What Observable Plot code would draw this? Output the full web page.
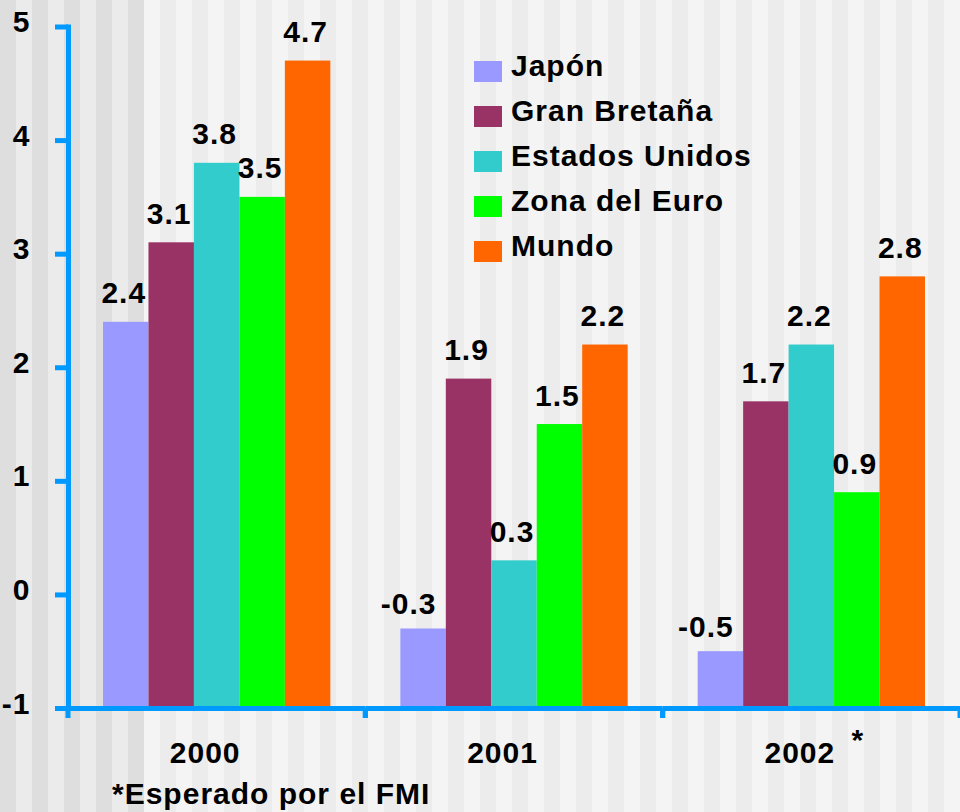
<!DOCTYPE html>
<html>
<head>
<meta charset="utf-8">
<script src="https://cdn.jsdelivr.net/npm/d3@7"></script>
<script src="https://cdn.jsdelivr.net/npm/@observablehq/plot@0.6"></script>
<style>
html, body { margin: 0; padding: 0; }
body {
  width: 960px; height: 812px; overflow: hidden;
  background:
    repeating-linear-gradient(90deg, #dedede 0 16px, #ebebeb 16px 32px) 0 0 / 144px 100% no-repeat,
    repeating-linear-gradient(90deg, #ececec 0 16px, #f4f4f4 16px 32px);
  font-family: "Liberation Sans", Arial, sans-serif;
}
#wrap { position: relative; width: 960px; height: 812px; }
#chart { position: absolute; left: 0; top: 0; }
#chart svg { font: bold 30px "Liberation Sans", Arial, sans-serif; letter-spacing: 1px; background: transparent; }
#legend { position: absolute; left: 474px; top: 43px; }
#legend > div { margin: 0 !important; padding: 0 !important; font: bold 30px "Liberation Sans", Arial, sans-serif !important; letter-spacing: 1px; color: #000; }
#legend > div > div { display: flex !important; align-items: center !important; height: 45px; padding: 0 !important; margin: 0 !important; }
#legend > div > div > div { font: inherit !important; overflow: visible !important; }
#legend svg { margin: 0 9px 0 0 !important; position: relative; top: 6px; flex-shrink: 0; }
#note { position: absolute; left: 112px; top: 779px; font: bold 30px "Liberation Sans", Arial, sans-serif; line-height: 30px; letter-spacing: 1px; color: #000; white-space: nowrap; }
</style>
</head>
<body>
<div id="wrap">
  <div id="chart"></div>
  <div id="legend"></div>
  <div id="note"></div>
</div>
<script>
// ---- Data ----
const years = ["2000", "2001", "2002"];
const series = ["Japón", "Gran Bretaña", "Estados Unidos", "Zona del Euro", "Mundo"];
const colors = ["#9999ff", "#993366", "#33cccc", "#00ff00", "#ff6600"];
const japon = [2.4, -0.3, -0.5];
const granBretana = [3.1, 1.9, 1.7];
const estadosUnidos = [3.8, 0.3, 2.2];
const zonaEuro = [3.5, 1.5, 0.9];
const mundo = [4.7, 2.2, 2.8];
const yTicks = [-1, 0, 1, 2, 3, 4, 5];
const starred = ["2002"];
const noteText = "*Esperado por el FMI";

const blue = "#0099ff";
const yMin = yTicks[0], yMax = yTicks[yTicks.length - 1];
const valuesBySeries = [japon, granBretana, estadosUnidos, zonaEuro, mundo];
const rows = [];
years.forEach((year, j) => {
  series.forEach((s, i) => rows.push({year, series: s, value: valuesBySeries[i][j]}));
});
const posRows = rows.filter(d => d.value >= 0);
const negRows = rows.filter(d => d.value < 0);

// boundary ticks below the x axis (drawn per facet, at facet edges)
function edgeTicks(index, scales, values, dimensions) {
  const {y} = scales;
  const left = dimensions.marginLeft;
  const right = dimensions.width - dimensions.marginRight;
  const g = d3.create("svg:g").attr("stroke", blue).attr("stroke-width", 5);
  for (const xx of [left, right]) {
    g.append("line").attr("x1", xx).attr("x2", xx).attr("y1", y(yMin)).attr("y2", y(yMin) + 10);
  }
  return g.node();
}

const chart = Plot.plot({
  width: 960,
  height: 812,
  marginLeft: 68,
  marginRight: 0,
  marginTop: 26.5,
  marginBottom: 104,
  style: {background: "transparent", overflow: "visible"},
  fx: {domain: years, padding: 0, round: false},
  x: {domain: series, paddingInner: 0, paddingOuter: 0.77, round: false, axis: null},
  y: {domain: [yMin, yMax]},
  color: {domain: series, range: colors},
  marks: [
    Plot.barY(rows, {fx: "year", x: "series", y1: yMin, y2: "value", fill: "series"}),
    Plot.text(posRows, {
      fx: "year", x: "series", y: "value",
      text: d => d.value.toFixed(1),
      lineAnchor: "bottom", dy: -19, dx: -2.5, fill: "black"
    }),
    Plot.text(negRows, {
      fx: "year", x: "series", y: "value",
      text: d => d.value.toFixed(1),
      lineAnchor: "bottom", dy: -14.5, dx: -15, fill: "black"
    }),
    Plot.ruleY([yMin], {stroke: blue, strokeWidth: 5}),
    Plot.frame({anchor: "left", facetAnchor: "left", stroke: blue, strokeWidth: 5}),
    edgeTicks,
    Plot.axisY({ticks: yTicks, tickSize: 13, stroke: blue, strokeWidth: 5, fill: "none", label: null}),
    Plot.axisY({ticks: yTicks, tickSize: 13, tickPadding: 25, stroke: "none", fill: "black",
      tickFormat: d => String(d), dy: -4.5, label: null}),
    Plot.axisFx({anchor: "bottom", tickSize: 0, tickPadding: 33, dx: -12, fill: "black", label: null}),
    Plot.text(starred, {fx: d => d, text: () => "*", frameAnchor: "bottom", lineAnchor: "bottom", dx: 46, dy: 41, fill: "black"})
  ]
});
document.getElementById("chart").appendChild(chart);

const legend = Plot.legend({
  color: {domain: series, range: colors},
  legend: "swatches",
  columns: 1,
  swatchWidth: 28,
  swatchHeight: 21
});
document.getElementById("legend").appendChild(legend);
document.getElementById("note").textContent = noteText;
</script>
</body>
</html>
